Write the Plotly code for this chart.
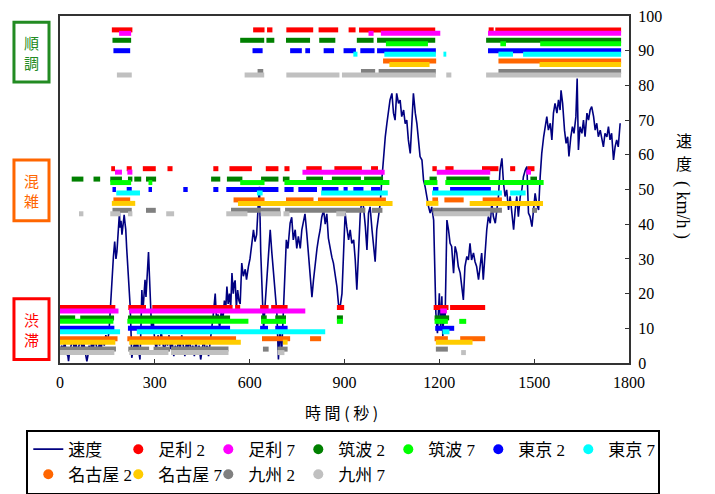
import plotly.graph_objects as go

# ---------------- data ----------------
SPEED_T = [0, 5, 10, 15, 20, 25, 27, 30, 35, 40, 45, 50, 55, 60, 65, 70, 75, 80, 85, 88, 92, 96, 100, 105, 110, 115,
           120, 125, 130, 135, 140, 145, 150, 155,
           158, 162, 166, 169, 173, 177, 180, 183, 185, 188, 190, 193, 196, 199, 203, 206, 208, 211, 214, 218, 222,
           225, 227, 232, 236, 240, 244, 248, 253, 256, 259, 262, 266, 269, 272, 276, 280, 283, 287, 290, 295, 300,
           305, 310, 315, 320, 325, 330, 335, 340, 345, 350, 355, 360, 365, 370, 375, 380, 385, 390, 395, 400, 405,
           410, 415, 420, 425, 430, 435, 440, 445, 450, 455, 460, 465, 470, 475, 480, 485, 491, 495, 500, 505, 510,
           515, 520, 524, 528, 532, 536, 540, 544, 548, 551, 554, 558, 562, 566, 570, 575, 580, 586, 590, 596, 601,
           607, 612, 617, 622, 628, 631, 635, 640, 644, 649, 654, 660, 665, 670, 675, 680, 686, 691, 696, 701, 707,
           712, 716, 721, 728, 733, 738, 744, 749, 754, 760, 765, 770, 775, 781, 786, 791, 797, 802, 807, 813, 818,
           823, 828, 834, 839, 844, 849, 854, 860, 865, 870, 876, 881, 886, 892, 897,
           902, 907, 913, 918, 923, 929, 934, 939, 945, 950, 955, 960, 966, 971, 976, 981, 987, 992, 997, 1002, 1008,
           1013, 1018, 1023, 1029, 1034, 1039, 1044, 1050, 1055, 1060, 1065, 1071, 1076, 1081, 1087, 1092, 1097,
           1102, 1108, 1113, 1118, 1124, 1129, 1134, 1139, 1145, 1150, 1155, 1161, 1166, 1171, 1176, 1182, 1185,
           1189, 1194, 1200, 1204, 1208, 1211, 1215, 1218, 1224, 1229, 1234, 1239, 1245, 1250, 1255, 1260, 1266,
           1271, 1276, 1281, 1287, 1292, 1297, 1302, 1308, 1313, 1318, 1324, 1329, 1334, 1339, 1345, 1350, 1355,
           1361, 1366, 1371, 1377, 1382, 1387, 1392, 1398, 1403, 1408, 1413, 1419, 1424, 1429, 1435, 1440, 1445,
           1450, 1456, 1461, 1466, 1472, 1477, 1482, 1487, 1493, 1498, 1503, 1508, 1514, 1519, 1524, 1530, 1535,
           1540, 1545, 1551, 1556, 1561, 1566, 1572, 1577, 1582, 1585, 1590, 1596, 1601, 1606, 1610, 1616, 1621,
           1626, 1632, 1636, 1640, 1645, 1651, 1656, 1661, 1667, 1672, 1677, 1682, 1688, 1693, 1698, 1703, 1709,
           1714, 1719, 1724, 1730, 1735, 1740, 1745, 1751, 1756, 1761, 1766, 1772]
SPEED_V = [3, 5, 4, 6, 3, 2, 0.5, 3, 5, 7, 4, 6, 3, 5, 7, 4, 6, 3, 0.5, 2, 5, 3, 6, 4, 7, 5,
           3, 6, 4, 7, 5, 8, 6, 9,
           14.5, 20, 27, 30.7, 35, 30, 32, 37, 40.3, 43.2, 39, 41, 37, 40, 42.7, 40, 38.5, 33, 28.8, 22, 16.3,
           8, 1.5, 4, 6, 3, 7, 4, 1, 10, 21, 14.5, 20, 24, 19, 26, 32, 25, 14.5, 9, 12, 6,
           4, 8, 5, 9, 6, 3, 7, 5, 8, 4, 6, 2, 5, 3, 7, 4, 8, 5, 2, 6, 4,
           7, 3, 5, 2, 6, 3, 5, 1, 4, 7, 3, 5, 2, 6, 9, 14, 20, 12.8, 14, 10, 15,
           12, 18, 15, 22, 17, 20, 16, 25.9, 20, 23, 23.8, 16, 21, 18, 17, 28.8, 25, 27, 24, 27.8, 30,
           34.5, 38.4, 35, 37, 47, 50.8, 32, 22, 9.6, 17, 24, 32, 38.4, 32, 27, 22, 14.5, 1, 10, 2.5, 17,
           28.8, 35.5, 33, 40.3, 42, 35.5, 38.4, 33, 36.5, 33, 38.4, 41.2, 43, 37, 30.5, 27, 19, 24, 28.8, 33, 36,
           38.4, 42, 44.1, 40, 43, 36, 33, 30.5, 28.8, 26, 22, 17, 16, 20, 33,
           43.2, 39.3, 35.5, 38.4, 34.5, 35.5, 29.7, 21.1, 33.6, 43.2, 47, 45, 39.3, 32.6, 43.2, 45, 38.4, 33.6, 29.2, 38.4, 43.2,
           46, 52.7, 59.5, 65.2, 69, 72.9, 75.8, 77.7, 72, 70, 77.7, 74.8, 75.8, 71, 72.9, 69, 70,
           64.3, 60.4, 69, 77.7, 72, 69, 64.3, 59.5, 58.5, 52.7, 50.8, 47, 45, 43.2, 45, 41.2, 27.8,
           14.4, 8.6, 20.1, 10.5, 19.2, 7.7, 16.3, 11.5, 41.2, 38.4, 34.5, 33.6, 25.9, 33.6, 31.7, 27.8, 25.9,
           22, 18.2, 27.8, 30.7, 29.7, 34.5, 29.7, 31.7, 29.2, 27.8, 24, 27.8, 31.7, 24, 33, 38.4, 42.2,
           40.3, 46, 42.2, 40.3, 44.1, 48, 55.6, 59, 51.8, 48, 49.9, 44.1, 48, 43.2, 38.4, 44.1, 48,
           42.2, 48, 49.9, 53.7, 55.6, 56.6, 43.2, 42.2, 39.3, 44.1, 48.9, 46, 44.1, 53.7, 60.4, 65.2, 68.1,
           71, 67.1, 69.1, 64.3, 72, 74.8, 72, 75.8, 72.9, 78.6, 74.8, 67.1, 63.3, 65.2, 59.5, 65.2, 68.1,
           66.2, 71, 82, 61.4, 68.1, 66.2, 70, 65.2, 72, 70, 72.9, 73.9, 71, 67.1, 69.1, 65.2, 67.1,
           64.3, 62.3, 66.2, 65.2, 68.1, 64.3, 66.2, 58.5, 62.3, 64.3, 62.3, 69.1]

CATEGORIES = ["足利 2", "足利 7", "筑波 2", "筑波 7", "東京 2", "東京 7",
              "名古屋 2", "名古屋 7", "九州 2", "九州 7"]

# level (km/h) of the top row of each judgement band
BAND_LEVELS = {"smooth": 96, "congested": 56, "jam": 16}
BAND_LABELS = ["順<br>調", "混<br>雑", "渋<br>滞"]

# intervals [start, end] (seconds) judged as each state, per category
SMOOTH = {
    "足利 2": [[164, 229], [611, 647], [655, 672], [716, 801], [818, 880], [913, 935], [946, 1187], [1356, 1372], [1377, 1775]],
    "足利 7": [[187, 225], [976, 992], [1015, 1203], [1354, 1775]],
    "筑波 2": [[166, 225], [570, 646], [653, 678], [715, 791], [820, 871], [939, 992], [1003, 1187], [1348, 1775]],
    "筑波 7": [[1031, 1164], [1393, 1411], [1519, 1775]],
    "東京 2": [[169, 222], [609, 641], [728, 765], [776, 791], [834, 867], [897, 936], [950, 995], [1003, 1189], [1354, 1775]],
    "東京 7": [[928, 941], [1026, 1189], [1213, 1222], [1387, 1433], [1465, 1775]],
    "名古屋 2": [[1022, 1190], [1387, 1775]],
    "名古屋 7": [[1042, 1169], [1517, 1775]],
    "九州 2": [[625, 643], [952, 997], [1008, 1189], [1387, 1775]],
    "九州 7": [[180, 227], [584, 646], [716, 884], [892, 1189], [1222, 1238], [1348, 1775]],
}
CONGESTED = {
    "足利 2": [[162, 174], [211, 227], [262, 303], [340, 356], [485, 501], [536, 607], [651, 691], [710, 726], [779, 828],
             [868, 955], [984, 1006], [1178, 1192], [1219, 1245], [1335, 1387], [1424, 1440], [1479, 1501]],
    "足利 7": [[174, 196], [213, 229], [767, 1027], [1192, 1361], [1475, 1490]],
    "筑波 2": [[37, 74], [106, 127], [159, 196], [215, 229], [235, 257], [272, 304], [478, 507], [528, 577], [636, 691],
             [705, 726], [779, 832], [860, 952], [962, 1022], [1169, 1192], [1222, 1359], [1488, 1509]],
    "筑波 7": [[159, 225], [280, 292], [570, 647], [710, 1042], [1152, 1194], [1219, 1530]],
    "東京 2": [[166, 177], [211, 227], [280, 291], [390, 404], [485, 501], [526, 691], [710, 739], [754, 813], [828, 881],
             [897, 910], [928, 960], [984, 1013], [1180, 1197], [1234, 1363]],
    "東京 7": [[178, 253], [623, 641], [826, 1037], [1177, 1398], [1424, 1473]],
    "名古屋 2": [[169, 222], [549, 647], [715, 802], [816, 1031], [1178, 1196], [1216, 1277], [1337, 1398]],
    "名古屋 7": [[164, 238], [563, 1052], [1158, 1197], [1296, 1528]],
    "九州 2": [[166, 227], [272, 303], [541, 697], [712, 966], [987, 1020], [1178, 1398], [1493, 1509]],
    "九州 7": [[60, 74], [159, 190], [215, 229], [336, 361], [526, 593], [635, 699], [707, 726], [874, 904], [1182, 1361]],
}
JAM = {
    "足利 2": [[0, 175], [216, 272], [292, 546], [554, 570], [633, 660], [668, 720], [876, 899], [1182, 1229], [1234, 1345]],
    "足利 7": [[0, 185], [219, 776], [1203, 1224]],
    "筑波 2": [[0, 48], [64, 171], [215, 538], [636, 654], [681, 715], [876, 895], [1185, 1231]],
    "筑波 7": [[0, 169], [213, 596], [636, 715], [876, 895], [1185, 1227], [1263, 1285]],
    "東京 2": [[0, 172], [215, 538], [633, 658], [681, 720], [1187, 1247]],
    "東京 7": [[0, 190], [243, 839], [1210, 1232]],
    "名古屋 2": [[0, 182], [213, 557], [639, 728], [791, 826], [1185, 1227], [1266, 1345]],
    "名古屋 7": [[0, 175], [219, 572], [705, 720], [1189, 1305]],
    "九州 2": [[0, 177], [216, 282], [296, 348], [351, 533], [642, 660], [688, 720], [1189, 1227]],
    "九州 7": [[0, 172], [219, 343], [351, 533], [688, 710], [1269, 1284]],
}

X_TICKS = [0, 300, 600, 900, 1200, 1500, 1800]
Y_TICKS = [0, 10, 20, 30, 40, 50, 60, 70, 80, 90, 100]

# ---------------- styles ----------------
COLORS = ["#FF0000", "#FF00FF", "#008000", "#00FF00", "#0000FF", "#00FFFF",
          "#FF6600", "#FFCC00", "#808080", "#C0C0C0"]
ROW_OFFSETS = [0, -1, -3, -4, -6, -7, -9, -10, -12, -13]
SERIF = "Liberation Serif, Noto Sans CJK JP"
JP = "Noto Sans CJK JP"

fig = go.Figure()

fig.add_trace(go.Scatter(x=SPEED_T, y=SPEED_V, mode="lines", name="速度",
                         line=dict(color="#000080", width=1.6), showlegend=True))

bands = [("smooth", SMOOTH), ("congested", CONGESTED), ("jam", JAM)]
for i, cat in enumerate(CATEGORIES):
    xs, ys = [], []
    for band, table in bands:
        level = BAND_LEVELS[band] + ROW_OFFSETS[i]
        for s, e in table[cat]:
            xs += [s, e, None]
            ys += [level, level, None]
    fig.add_trace(go.Scatter(x=xs, y=ys, mode="lines", name=cat, legendgroup=cat,
                             line=dict(color=COLORS[i], width=5), showlegend=False,
                             hoverinfo="skip"))

for i, cat in enumerate(CATEGORIES):
    fig.add_trace(go.Scatter(x=[None], y=[None], mode="markers", name=cat, legendgroup=cat,
                             marker=dict(color=COLORS[i], size=10), showlegend=True))

# left judgement labels (boxes in data y, text stacked vertically)
label_boxes = [("#228B22", 98.2, 81.0), ("#FF6600", 58.5, 41.0), ("#FF0000", 18.5, 1.0)]
for text, (col, ytop, ybot) in zip(BAND_LABELS, label_boxes):
    fig.add_shape(type="rect", xref="paper", yref="y", x0=-0.0809, x1=-0.0193, y0=ybot, y1=ytop,
                  line=dict(color=col, width=3), fillcolor="white", layer="above")
    fig.add_annotation(text=text, xref="paper", yref="y", x=-0.0501, y=(ytop + ybot) / 2,
                       showarrow=False, font=dict(family=JP, size=15, color=col),
                       xanchor="center", yanchor="middle")

# right axis title (vertical Japanese)
fig.add_annotation(text="速", xref="paper", yref="paper", x=1.115, y=0.6426, showarrow=False,
                   font=dict(family=JP, size=16, color="black"), yanchor="middle")
fig.add_annotation(text="度", xref="paper", yref="paper", x=1.115, y=0.575, showarrow=False,
                   font=dict(family=JP, size=16, color="black"), yanchor="middle")
fig.add_annotation(text="( km/h )", xref="paper", yref="paper", x=1.115, y=0.441, showarrow=False,
                   textangle=90, font=dict(family=SERIF, size=18, color="black"))
# x axis title
fig.add_annotation(text="時 間 ( 秒 )", xref="paper", yref="paper", x=0.494, y=-0.140, showarrow=False,
                   font=dict(family=JP, size=16, color="black"), xanchor="center", yanchor="middle")

fig.update_layout(
    width=707, height=486,
    margin=dict(l=52, r=86, t=8, b=131, autoexpand=False),
    plot_bgcolor="white", paper_bgcolor="white",
    showlegend=True,
    legend=dict(orientation="h", x=1.055, xanchor="right", y=-0.192, yanchor="top",
                bordercolor="black", borderwidth=2, entrywidth=45, entrywidthmode="pixels",
                font=dict(family=SERIF, size=17, color="black"), itemwidth=30,
                traceorder="normal"),
)
fig.update_xaxes(range=[0, 1800], tickvals=X_TICKS, ticktext=[str(v) for v in X_TICKS],
                 showgrid=False, zeroline=False, showline=True, mirror=True, automargin=False,
                 linecolor="#333333", linewidth=2, ticks="inside", ticklen=4, tickcolor="#333333",
                 ticklabelstandoff=4, ticklabeloverflow="allow",
                 tickfont=dict(family=SERIF, size=16, color="black"))
fig.update_yaxes(range=[0, 100], tickvals=Y_TICKS, side="right",
                 showgrid=False, zeroline=False, showline=True, mirror=True, automargin=False,
                 linecolor="#333333", linewidth=2, ticks="inside", ticklen=4, tickcolor="#333333",
                 ticklabelstandoff=4, ticklabeloverflow="allow",
                 tickfont=dict(family=SERIF, size=16, color="black"))

fig.write_html("out.html")
